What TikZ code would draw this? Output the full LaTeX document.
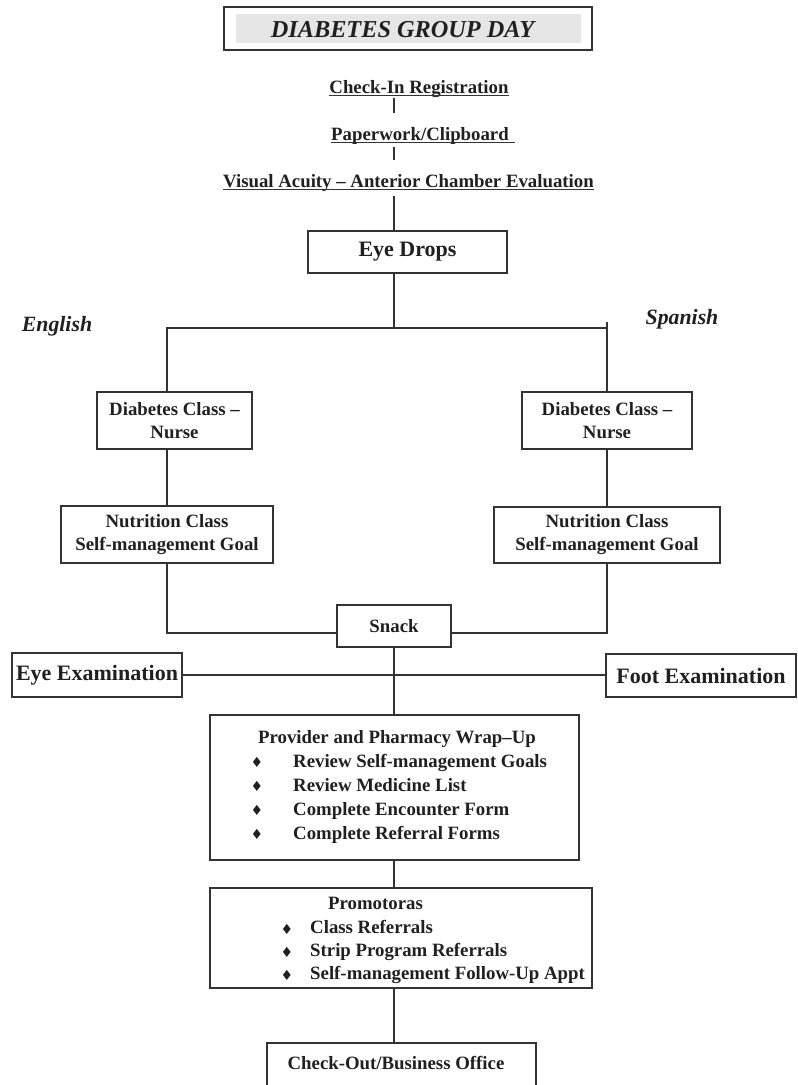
\documentclass[tikz,border=0pt]{standalone}
\usepackage{fontspec}
\setmainfont{Liberation Serif}
\newfontfamily\symfont{DejaVu Sans}
\usetikzlibrary{calc}

\definecolor{ink}{HTML}{202020}
\definecolor{rule}{HTML}{333333}
\definecolor{band}{HTML}{E6E6E6}

\newcommand\bodyfont{\fontsize{18.8}{23}\selectfont\bfseries}
\newcommand\bigfont{\fontsize{22}{26}\selectfont\bfseries}
\newcommand\headfont{\fontsize{24.3}{28}\selectfont\bfseries\itshape}
\newcommand\langfont{\fontsize{21.8}{26}\selectfont\bfseries\itshape}

\tikzset{
  box/.style={draw=rule, line width=1.1pt, rectangle, inner sep=0pt,
              align=center, text=ink, font=\bodyfont},
  bigbox/.style={box, font=\bigfont},
  link/.style={draw=rule, line width=1.1pt},
  lab/.style={inner sep=0pt, text=ink, font=\bodyfont},
  ulab/.style={lab, anchor=base},
  item/.style={lab, anchor=base west},
  bul/.style={inner sep=0pt, text=ink, font=\symfont\fontsize{14}{14}\selectfont},
  lang/.style={inner sep=0pt, text=ink, font=\langfont},
}

\begin{document}
\begin{tikzpicture}[x=1pt, y=-1pt]
  \useasboundingbox (0,0) rectangle (798,1085);
  \clip (0,0) rectangle (798,1085);
  \fill[white] (0,0) rectangle (798,1085);

  % title banner
  \node[draw=rule, line width=1.2pt, minimum width=368, minimum height=43, inner sep=0pt] (frame) at (408,28.5) {};
  \node[fill=band, minimum width=345, minimum height=29, inner sep=0pt] (bandbox) at (408.5,28.5) {};
  \node[inner sep=0pt, text=ink, font=\headfont, anchor=base] (title) at (402.5,37) {DIABETES GROUP DAY};

  % arrival steps
  \coordinate (spine) at (394,0);
  \node[ulab] (ci) at (419,93) {Check-In Registration};
  \node[ulab] (paper) at (420,140) {Paperwork/Clipboard};
  \node[ulab] (vis) at (408.5,187) {Visual Acuity – Anterior Chamber Evaluation};
  \draw[line width=1.1pt, rule] ([yshift=-2.5]ci.base west) -- ([yshift=-2.5]ci.base east);
  \draw[line width=1.1pt, rule] ([yshift=-2.5]paper.base west) -- ([yshift=-2.5, xshift=6]paper.base east);
  \draw[line width=1.1pt, rule] ([yshift=-2.5]vis.base west) -- ([yshift=-2.5]vis.base east);

  \node[bigbox, minimum width=199, minimum height=42] (drops) at (407.5,252) {Eye Drops};

  \draw[link] ([yshift=-5]ci.base -| spine) -- ([yshift=-20]ci.base -| spine);
  \draw[link] ([yshift=-7]paper.base -| spine) -- ([yshift=27]vis.base -| spine);
  \draw[link] ([yshift=-9]vis.base -| spine) -- (drops.north -| spine);

  % language tracks
  \node[lang] (en) at (57,326) {English};
  \node[lang] (es) at (682,319) {Spanish};

  \node[box, minimum width=155, minimum height=57] (dcl) at (174.5,420.5) {Diabetes Class –\\Nurse};
  \node[box, minimum width=170, minimum height=57] (dcr) at (607,420.5) {Diabetes Class –\\Nurse};
  \node[box, minimum width=212, minimum height=57] (nl) at (167,534.5) {Nutrition Class\\Self-management Goal};
  \node[box, minimum width=226, minimum height=56] (nr) at (607,535) {Nutrition Class\\Self-management Goal};
  \node[box, minimum width=114, minimum height=42] (snack) at (394,626) {Snack};

  \coordinate (fork) at (394,328);
  \draw[link] (drops.south -| spine) -- (fork);
  \draw[link] (nl.north |- dcl.north) |- (fork) -| (dcr.north);
  \draw[link] (dcr.north |- fork) -- ++(0,-6);
  \draw[link] (nl.north |- dcl.south) -- (nl.north);
  \draw[link] (dcr.south) -- (nr.north);
  \draw[link] (nl.south) |- ([yshift=-7]snack.west);
  \draw[link] (nr.south) |- ([yshift=-7]snack.east);

  % examinations
  \node[bigbox, minimum width=170, minimum height=44] (eye) at (97,675) {Eye Examination};
  \node[bigbox, minimum width=190, minimum height=43] (foot) at (701,675.5) {Foot Examination};
  \draw[link] (eye.east) -- (eye.east -| foot.west);

  % wrap-up
  \node[box, minimum width=369, minimum height=145] (prov) at (394.5,787.5) {};
  \node[lab, anchor=base] (provt) at (397,743) {Provider and Pharmacy Wrap–Up};
  \node[bul] (pb1) at (257,762) {♦};
  \node[bul] (pb2) at (257,786) {♦};
  \node[bul] (pb3) at (257,810) {♦};
  \node[bul] (pb4) at (257,834) {♦};
  \node[item] (pi1) at (293,767) {Review Self-management Goals};
  \node[item] (pi2) at (293,791) {Review Medicine List};
  \node[item] (pi3) at (293,815) {Complete Encounter Form};
  \node[item] (pi4) at (293,839) {Complete Referral Forms};

  \node[box, minimum width=382, minimum height=100] (promo) at (401,938) {};
  \node[lab, anchor=base] (promot) at (375.5,909) {Promotoras};
  \node[bul] (qb1) at (287,929) {♦};
  \node[bul] (qb2) at (287,952) {♦};
  \node[bul] (qb3) at (287,975) {♦};
  \node[item] (qi1) at (310,933) {Class Referrals};
  \node[item] (qi2) at (310,956) {Strip Program Referrals};
  \node[item] (qi3) at (310,979) {Self-management Follow-Up Appt};

  \node[box, minimum width=269, minimum height=74] (out) at (401.5,1080) {};
  \node[lab, anchor=base] (outt) at (396,1069) {Check-Out/Business Office};

  \draw[link] (snack.south) -- (snack.south |- prov.north);
  \draw[link] (prov.south -| spine) -- (promo.north -| spine);
  \draw[link] (promo.south -| spine) -- (out.north -| spine);
\end{tikzpicture}
\end{document}
